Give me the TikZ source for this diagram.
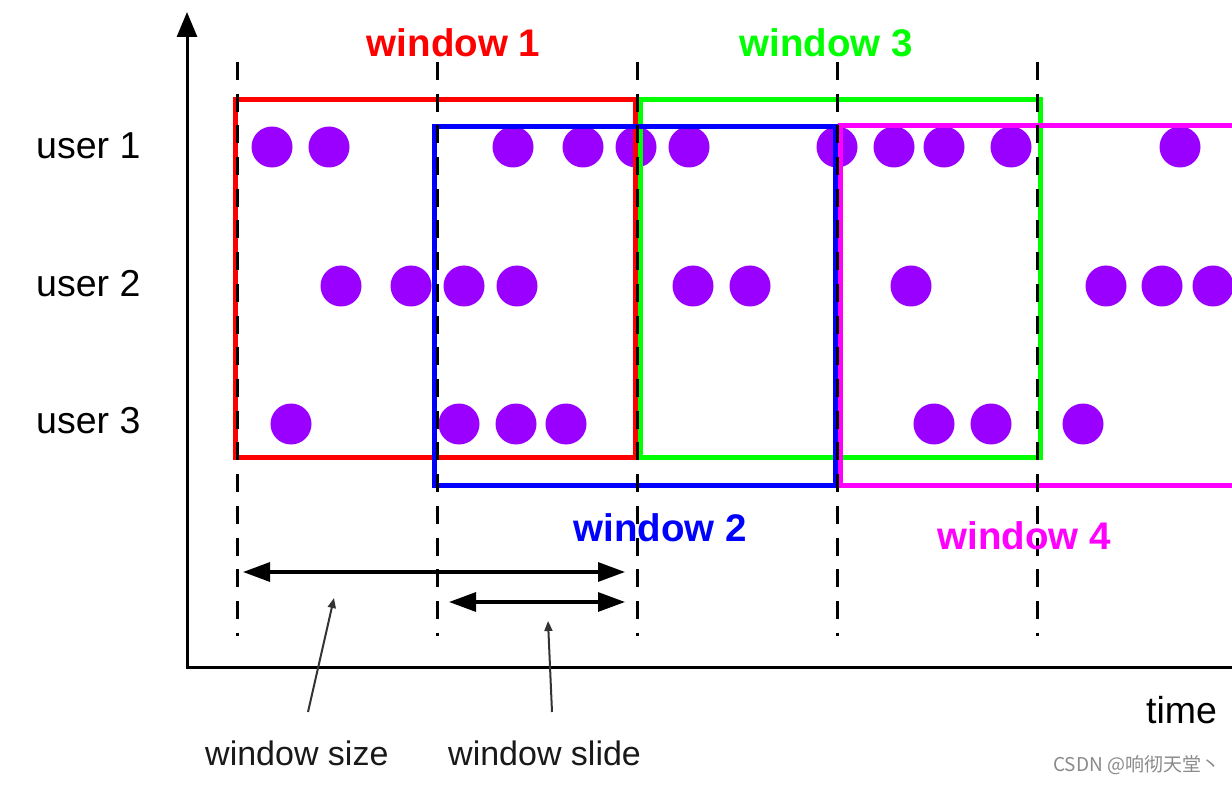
\documentclass[tikz,border=0pt]{standalone}
\usepackage{fontspec}
\setmainfont{Liberation Sans}
\newfontfamily\cjkfont{Noto Sans CJK SC}
\usetikzlibrary{arrows.meta}
\definecolor{wred}{HTML}{FF0000}
\definecolor{wgreen}{HTML}{00FF00}
\definecolor{wblue}{HTML}{0000FF}
\definecolor{wmag}{HTML}{FF00FF}
\definecolor{evt}{HTML}{9900FF}
\definecolor{wmark}{HTML}{8A8A8A}
\tikzset{
  evdot/.style={fill=evt},
  winbox/.style={line width=5pt, line join=miter},
  guide/.style={line width=3pt, dash pattern=on 18pt off 13.7pt},
  axisline/.style={line width=3pt, -{Triangle[length=25pt,width=20pt]}},
  span/.style={line width=3.2pt, {Triangle[length=27pt,width=19pt]}-{Triangle[length=27pt,width=19pt]}},
  pointer/.style={line width=2pt, draw={black!80}, -{Triangle[length=10pt,width=8pt]}},
  wlabel/.style={anchor=base, inner sep=0pt, font=\fontsize{38.5}{40}\selectfont\bfseries},
  ulabel/.style={anchor=base west, inner sep=0pt, font=\fontsize{37.5}{40}\selectfont},
  blabel/.style={anchor=base west, inner sep=0pt, font=\fontsize{34}{38}\selectfont, text=black!90}
}
\begin{document}
\begin{tikzpicture}[x=1pt,y=-1pt]
\clip (0,0) rectangle (1232,786);
\fill[white] (0,0) rectangle (1232,786);
% events
\foreach \x in {272,329,513,583,636,689,837,894,944,1011,1180} \fill[evdot] (\x,147) circle[radius=20.5];
\foreach \x in {341,411,464,517,693,750,911,1106,1162,1213} \fill[evdot] (\x,286) circle[radius=20.5];
\foreach \x in {291,459,516,566,934,991,1083} \fill[evdot] (\x,424) circle[radius=20.5];
% windows
\draw[winbox, wred] (235,100) rectangle (635,457);
\draw[winbox, wgreen] (640,100) rectangle (1040,457);
\draw[winbox, wblue] (434,127) rectangle (835,485);
\draw[winbox, wmag] (1250,126) -- (840,126) -- (840,485) -- (1250,485);
% guides
\foreach \x/\n in {237/g1,437/g2,637/g3,837/g4,1037/g5} {
  \coordinate (\n top) at (\x,62);
  \coordinate (\n bot) at (\x,636);
  \draw[guide] (\n top) -- (\n bot);
}
% axes
\coordinate (origin) at (187,667);
\coordinate (ybase) at (187,668.5);
\coordinate (ytip) at (187,12);
\coordinate (xend) at (1240,667);
\draw[line width=3pt] (xend) -- (origin);
\draw[axisline] (ybase) -- (ytip);
% spans
\coordinate (s1a) at (243,572);
\coordinate (s1b) at (625,572);
\coordinate (s2a) at (449,602);
\coordinate (s2b) at (625,602);
\draw[span] (s1a) -- (s1b);
\draw[span] (s2a) -- (s2b);
% labels
\node[wlabel, text=wred] (w1) at (453.5,57) {window 1};
\node[wlabel, text=wgreen] (w3) at (826,57) {window 3};
\node[wlabel, text=wblue] (w2) at (660,541) {window 2};
\node[wlabel, text=wmag] (w4) at (1024,549) {window 4};
\node[ulabel] (u1) at (36,159) {user 1};
\node[ulabel] (u2) at (36,297) {user 2};
\node[ulabel] (u3) at (36,433) {user 3};
\node[ulabel] (time) at (1146,723) {time};
\node[blabel] (wsize) at (205,765) {window size};
\node[blabel] (wslide) at (448,765) {window slide};
\coordinate (p1a) at (308,712);
\coordinate (p1b) at (334,598);
\coordinate (p2a) at (552,712);
\coordinate (p2b) at (548,621);
\draw[pointer] (p1a) -- (p1b);
\draw[pointer] (p2a) -- (p2b);
\node[anchor=base west, inner sep=0pt, text=wmark, font=\cjkfont\fontsize{19}{20}\selectfont] (mark) at (1053,771) {CSDN @响彻天堂丶};
\end{tikzpicture}
\end{document}
